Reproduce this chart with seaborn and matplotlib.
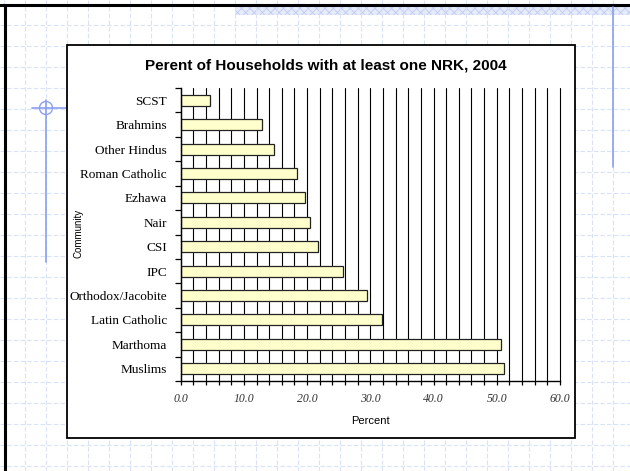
import matplotlib
matplotlib.use("Agg")
import matplotlib.pyplot as plt
from matplotlib.patches import Rectangle, Circle
from matplotlib.ticker import MultipleLocator, FixedLocator
import seaborn as sns
import pandas as pd
import numpy as np

communities = ["SCST", "Brahmins", "Other Hindus", "Roman Catholic", "Ezhawa", "Nair",
               "CSI", "IPC", "Orthodox/Jacobite", "Latin Catholic", "Marthoma", "Muslims"]
percent = [4.6, 12.8, 14.7, 18.4, 19.7, 20.4, 21.7, 25.7, 29.4, 31.9, 50.6, 51.2]

df = pd.DataFrame({"Community": communities, "Percent": percent})

sns.set_theme(style="white")
plt.rcParams["hatch.linewidth"] = 0.6
W, H = 630, 471
fig = plt.figure(figsize=(W / 100, H / 100), dpi=100)

# slide background: dashed grid, borders, decorations (pixel coords)
bg = fig.add_axes([0, 0, 1, 1], zorder=0)
bg.set_xlim(0, W)
bg.set_ylim(H, 0)
bg.axis("off")
grid_col = "#dae2f7"
for gx in np.arange(4, W, 21):
    bg.plot([gx, gx], [0, H], color=grid_col, lw=0.8, ls=(0, (4, 2)))
for gy in np.arange(4, H, 21):
    bg.plot([0, W], [gy, gy], color=grid_col, lw=0.8, ls=(0, (4, 2)))
bg.add_patch(Rectangle((235, 7), W - 235, 8, facecolor="#e6ebfa", edgecolor="#bfcbf2",
                       hatch="xxxx", lw=0))
bg.plot([0, W], [5, 5], color="black", lw=2.2)
bg.plot([5, 5], [5, H], color="black", lw=2.2)
bg.plot([613, 613], [7, 167], color="#8a9ff0", lw=1.2)
bg.plot([46, 46], [100, 262], color="#8a9ff0", lw=1.2)
bg.plot([32, 70], [108, 108], color="#8a9ff0", lw=1.2)
bg.add_patch(Circle((46, 108), 6.5, fill=False, edgecolor="#8a9ff0", lw=1.0))
# chart area box
bg.add_patch(Rectangle((67, 45), 508, 393, facecolor="white", edgecolor="black", lw=1.3, zorder=5))
bg.text(326, 65, "Perent of Households with at least one NRK, 2004", ha="center", va="center",
        fontsize=11, fontweight="bold", family="Liberation Sans", color="black", zorder=6)
bg.text(78, 233, "Community", rotation=90, ha="center", va="center", fontsize=7,
        family="Liberation Sans", color="black", zorder=6)
bg.text(370, 421, "Percent", ha="center", va="center", fontsize=8,
        family="Liberation Sans", color="black", zorder=6)

ax = fig.add_axes([180.7 / W, 1 - 381 / H, (560 - 180.7) / W, (381 - 88) / H], zorder=2)
ax.patch.set_alpha(0)
sns.barplot(data=df, y="Community", x="Percent", orient="h", color="#ffffcc",
            edgecolor="#222222", linewidth=0.9, width=0.45, saturation=1, ax=ax)
ax.set_xlim(0, 60)
ax.set_ylim(len(communities) - 0.5, -0.5)
ax.set_xticks(np.arange(0, 61, 10))
ax.set_xticklabels([f"{v:.1f}" for v in np.arange(0, 61, 10)], fontsize=8.5,
                   family="Liberation Serif", style="italic", color="#333333")
ax.xaxis.set_minor_locator(MultipleLocator(2))
ax.yaxis.set_minor_locator(FixedLocator(np.arange(-0.5, len(communities), 1.0)))
ax.set_axisbelow(True)
ax.grid(True, axis="x", which="both", color="black", lw=0.8)
for t in ax.xaxis.get_major_ticks() + ax.xaxis.get_minor_ticks():
    t.gridline.set_clip_on(False)
ax.set_yticks(range(len(communities)))
ax.set_yticklabels(communities, fontsize=9.5, family="Liberation Serif", color="black")
ax.tick_params(axis="y", which="major", length=0, pad=10)
ax.tick_params(axis="y", which="minor", length=4, width=0.9, color="black", left=True)
ax.tick_params(axis="x", which="both", length=3, width=0.9, color="black", bottom=True, pad=6)
for s in ["top", "right"]:
    ax.spines[s].set_visible(False)
for s in ["left", "bottom"]:
    ax.spines[s].set_color("black")
    ax.spines[s].set_linewidth(1.0)
ax.set_xlabel("")
ax.set_ylabel("")

fig.savefig("out.png", dpi=100)
